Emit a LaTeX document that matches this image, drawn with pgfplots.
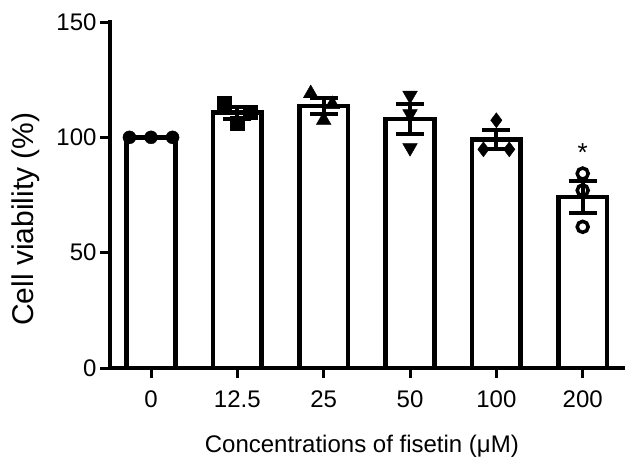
\documentclass[border=0pt]{standalone}
\usepackage{pgfplots}
\pgfplotsset{compat=1.18}
\usepackage{pgfplotstable}
\usepackage{fontspec}
\setmainfont{Liberation Sans}

\pgfplotstableread{
x mean sem
0 100   0
1 110.7 2.6
2 113.6 3.4
3 108.0 6.6
4 99.0  4.2
5 74.2  6.8
}\means

\begin{document}
\begin{tikzpicture}
\begin{axis}[
  name=ax,
  scale only axis,
  width=515pt, height=346pt,
  xmin=-0.475, xmax=5.49,
  ymin=0, ymax=150,
  clip=false,
  axis x line=bottom, axis y line=left,
  axis line style={-, line width=3.5pt, line cap=rect},
  xtick={0,1,2,3,4,5},
  xticklabels={0,12.5,25,50,100,200},
  ytick={0,50,100,150},
  tick align=outside,
  major tick length=10pt,
  tick style={line width=3pt, black},
  /pgf/number format/assume math mode=true,
  tick label style={font=\fontsize{24}{28}\selectfont},
  xticklabel style={yshift=-9pt},
  label style={font=\fontsize{24}{28}\selectfont},
  xlabel={Concentrations of fisetin (μM)},
  ylabel={Cell viability (\%)},
  xlabel style={at={(axis description cs:0.489,-0.243)}, anchor=base},
  ylabel style={at={(axis description cs:-0.163,0.43)}, anchor=center, rotate=0, font=\fontsize{30}{33}\selectfont},
]
\addplot[ybar, bar width=0.565, fill=white, draw=black, line width=4.5pt, line join=miter] table[x=x, y=mean] {\means};
\addplot[mark=none, draw=none, forget plot,
  error bars/.cd, y dir=both, y explicit,
  error bar style={draw=black, line width=4pt},
  error mark options={draw=black, line width=4pt, mark size=14pt, rotate=90}]
  table[x=x, y=mean, y error=sem] {\means};
% individual points
\addplot[only marks, mark=*, mark size=6.5pt, black] coordinates {(-0.25,100) (0,100) (0.25,100)};
\addplot[only marks, mark=square*, mark size=7pt, black] coordinates {(0.85,115) (1.15,111) (1,106)};
\addplot[only marks, mark=triangle*, mark size=8.5pt, black] coordinates {(1.85,119) (2.1,114.3) (2,107.4)};
\addplot[only marks, mark=triangle*, mark size=8.5pt, black, mark options={rotate=180}] coordinates {(3,118.2) (3,110.2) (3,95.5)};
\addplot[only marks, mark=diamond*, mark size=7.5pt, black] coordinates {(4,107.4) (3.85,94.8) (4.15,94.8)};
\addplot[only marks, mark=o, mark size=5.5pt, black, line width=3.5pt, mark options={fill=white}] coordinates {(5,84.3) (5,77) (5,61.2)};
\node[font=\fontsize{26}{28}\selectfont] at (axis cs:5,93.5) {*};
\end{axis}
\pgfresetboundingbox
\path (ax.south west) ++(-110pt,-91pt) rectangle ++(625pt,459pt);
\end{tikzpicture}
\end{document}
